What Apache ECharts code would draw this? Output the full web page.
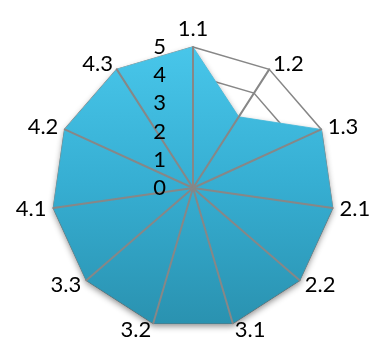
<!DOCTYPE html>
<html>
<head>
<meta charset="utf-8">
<script src="https://cdn.jsdelivr.net/npm/echarts@6/dist/echarts.min.js"></script>
<style>
  html, body { margin: 0; padding: 0; background: #fff; }
  #chart { width: 377px; height: 342px; }
</style>
</head>
<body>
<div id="chart"></div>
<script>
// Indicator names, clockwise from the top
const categories = ['1.1', '1.2', '1.3', '2.1', '2.2', '3.1', '3.2', '3.3', '4.1', '4.2', '4.3'];
// Score per indicator
const values = [5, 3, 5, 5, 5, 5, 5, 5, 5, 5, 5];
// Scale of the radial axis
const scaleMin = 0;
const scaleMax = 5;
const scaleStep = 1;

const FONT = 'Lato, "Open Sans", sans-serif';
const CENTER = [193, 188];
const RADIUS = 141;
const GRID = '#878787';

// ECharts lays radar axes out counter-clockwise; keep the first axis on top
// and walk the rest backwards so the names read clockwise.
const order = [0].concat(categories.slice(1).map((_, i) => categories.length - 1 - i));
const indicator = order.map(i => ({ name: categories[i], min: scaleMin, max: scaleMax }));
const orderedValues = order.map(i => values[i]);

const chart = echarts.init(document.getElementById('chart'), null, { renderer: 'canvas' });
chart.setOption({
  animation: false,
  radar: [
    {
      // rings and indicator names, drawn under the filled area
      z: 1,
      center: CENTER,
      radius: RADIUS,
      startAngle: 90,
      splitNumber: (scaleMax - scaleMin) / scaleStep,
      shape: 'polygon',
      indicator,
      axisName: { color: '#000', fontSize: 22, fontFamily: FONT },
      nameGap: 7,
      splitLine: { lineStyle: { color: GRID, width: 1.5 } },
      splitArea: { show: false },
      axisLine: { show: false },
      axisTick: { show: false },
      axisLabel: { show: false }
    },
    {
      // spokes, drawn over the filled area
      z: 5,
      center: CENTER,
      radius: RADIUS,
      startAngle: 90,
      splitNumber: (scaleMax - scaleMin) / scaleStep,
      shape: 'polygon',
      indicator,
      axisName: { show: false },
      splitLine: { show: false },
      splitArea: { show: false },
      axisLine: { lineStyle: { color: GRID, width: 2 } },
      axisTick: { show: false },
      axisLabel: { show: false }
    }
  ],
  polar: { center: CENTER, radius: RADIUS },
  angleAxis: { show: false, min: 0, max: 360, startAngle: 90 },
  radiusAxis: {
    min: scaleMin,
    max: scaleMax,
    interval: scaleStep,
    z: 6,
    axisLine: { show: false },
    axisTick: { show: false },
    splitLine: { show: false },
    axisLabel: { show: true, color: '#000', fontSize: 22, fontFamily: FONT, margin: 27, padding: [12, 0, 0, 0] }
  },
  series: [
    {
      type: 'radar',
      radarIndex: 0,
      z: 3,
      symbol: 'none',
      data: [{ value: orderedValues }],
      lineStyle: { width: 1, color: '#6fd3ef' },
      areaStyle: {
        opacity: 1,
        color: new echarts.graphic.LinearGradient(0, 0, 0, 1, [
          { offset: 0, color: '#48c6ea' },
          { offset: 0.5, color: '#36aed2' },
          { offset: 1, color: '#2a92b0' }
        ]),
        shadowBlur: 6,
        shadowOffsetY: 3,
        shadowColor: 'rgba(0,0,0,0.45)'
      }
    }
  ]
});
</script>
</body>
</html>
